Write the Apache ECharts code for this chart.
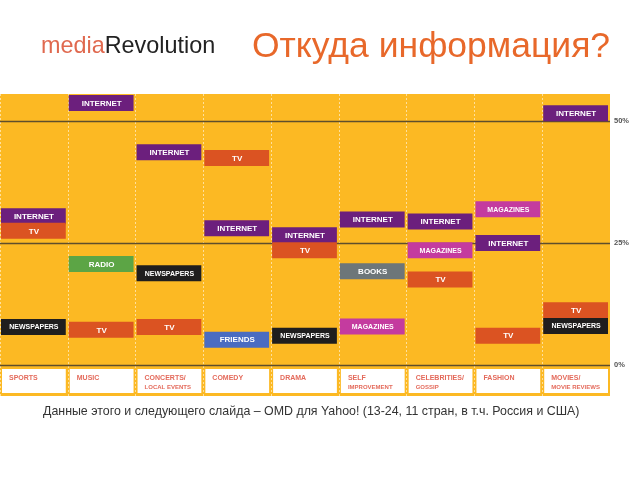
<!DOCTYPE html>
<html>
<head>
<meta charset="utf-8">
<script src="https://cdn.jsdelivr.net/npm/echarts@6/dist/echarts.min.js"></script>
<style>html,body{margin:0;padding:0;background:#fff}#c{width:640px;height:480px}</style>
</head>
<body>
<div id="c"></div>
<script>
const categories = ['SPORTS','MUSIC','CONCERTS/\nLOCAL EVENTS','COMEDY','DRAMA','SELF\nIMPROVEMENT','CELEBRITIES/\nGOSSIP','FASHION','MOVIES/\nMOVIE REVIEWS'];
const boxCategory = [0,0,0, 1,1,1, 2,2,2, 3,3,3, 4,4,4, 5,5,5, 6,6,6, 7,7,7, 8,8,8];
const boxMedium = [
  'INTERNET','TV','NEWSPAPERS',
  'INTERNET','RADIO','TV',
  'INTERNET','NEWSPAPERS','TV',
  'TV','INTERNET','FRIENDS',
  'INTERNET','TV','NEWSPAPERS',
  'INTERNET','BOOKS','MAGAZINES',
  'INTERNET','MAGAZINES','TV',
  'MAGAZINES','INTERNET','TV',
  'INTERNET','TV','NEWSPAPERS'
];
const boxValue = [
  30.5, 27.5, 7.8,
  53.7, 20.7, 7.2,
  43.6, 18.8, 7.8,
  42.4, 28.0, 5.2,
  26.6, 23.5, 6.0,
  29.8, 19.2, 7.9,
  29.4, 23.5, 17.5,
  31.9, 25.0, 6.0,
  51.6, 11.2, 8.0
];
const yTicks = [0, 25, 50];

const mediumColor = {
  INTERNET: '#6C1F7D',
  TV: '#DB5322',
  NEWSPAPERS: '#1F1E1E',
  RADIO: '#5CA545',
  FRIENDS: '#4A6CC1',
  BOOKS: '#6D7679',
  MAGAZINES: '#C43B9F'
};

const chart = echarts.init(document.getElementById('c'), null, {renderer: 'canvas'});

const boxData = boxValue.map((v, i) => [boxCategory[i], v]);
const catData = categories.map((c, i) => [i, 0]);

function catRich(label) {
  const parts = label.split('\n');
  if (parts.length === 1) return '{a|' + parts[0] + '}';
  return '{a|' + parts[0] + '}\n{b|' + parts[1] + '}';
}

const FF = 'Liberation Sans, Arial, sans-serif';

chart.setOption({
  animation: false,
  title: [
    {
      text: '{a|media}{b|Revolution}',
      left: 36, top: 30,
      textStyle: {
        rich: {
          a: {color: '#E0694F', fontSize: 23.4, fontWeight: 'normal', fontFamily: FF},
          b: {color: '#222', fontSize: 23.4, fontWeight: 'normal', fontFamily: FF}
        }
      }
    },
    {
      text: 'Откуда информация?',
      left: 247, top: 24,
      textStyle: {color: '#E8682A', fontSize: 35.5, fontWeight: 'normal', fontFamily: FF}
    },
    {
      text: 'Данные этого и следующего слайда – OMD для Yahoo! (13-24, 11 стран, в т.ч. Россия и США)',
      left: 38, top: 401,
      textStyle: {color: '#333', fontSize: 12.4, fontWeight: 'normal', fontFamily: FF}
    }
  ],
  grid: {
    left: 0, right: 30, top: 94, bottom: 84,
    show: true, backgroundColor: '#FCB923', borderWidth: 0
  },
  xAxis: {
    type: 'category',
    data: categories,
    boundaryGap: true,
    axisLine: {show: false},
    axisTick: {show: false},
    axisLabel: {show: false},
    splitLine: {show: true, interval: 0, lineStyle: {color: 'rgba(255,255,255,0.55)', type: [2, 2], width: 1}}
  },
  yAxis: {
    type: 'value',
    min: -6.35, max: 55.53,
    axisLine: {show: false},
    axisTick: {show: false},
    axisLabel: {show: false},
    splitLine: {show: false}
  },
  series: [
    {
      type: 'custom',
      data: catData,
      renderItem: function (params, api) {
        const i = params.dataIndex;
        const p = api.coord([api.value(0), 0]);
        const w = api.size([1, 0])[0];
        const x0 = p[0] - w / 2;
        return {
          type: 'group',
          children: [
            {type: 'rect', shape: {x: x0 + 2, y: p[1] + 4, width: w - 4, height: 24}, style: {fill: '#FFFFFF'}},
            {type: 'text', style: {
              text: catRich(categories[i]), x: x0 + 9, y: p[1] + 9,
              align: 'left', verticalAlign: 'top',
              rich: {
                a: {fontSize: 7, fontWeight: 'bold', fill: '#E46A5B', fontFamily: FF, lineHeight: 9},
                b: {fontSize: 6, fontWeight: 'bold', fill: '#E46A5B', fontFamily: FF, lineHeight: 9}
              }
            }}
          ]
        };
      },
      markLine: {
        silent: true,
        symbol: ['none', 'none'],
        lineStyle: {color: '#5E4E2C', width: 1.3, type: 'solid'},
        label: {
          show: true, position: 'end', distance: 4,
          formatter: function (p) { return p.value + '%'; },
          color: '#555', fontSize: 7.5, fontWeight: 'bold',
          padding: [11, 0, 0, 0],
          fontFamily: FF
        },
        data: yTicks.map(v => ({yAxis: v}))
      },
      z: 1
    },
    {
      type: 'custom',
      data: boxData,
      zlevel: 1,
      renderItem: function (params, api) {
        const i = params.dataIndex;
        const p = api.coord([api.value(0), api.value(1)]);
        const w = api.size([1, 0])[0];
        const h = 16;
        const label = boxMedium[i];
        const fs = label.length > 8 ? 7 : 8;
        return {
          type: 'group',
          children: [
            {type: 'rect', shape: {x: p[0] - w / 2 + 1, y: p[1] - h / 2, width: w - 3, height: h}, style: {fill: mediumColor[label]}},
            {type: 'text', style: {
              text: label, x: p[0], y: p[1] + 0.5, align: 'center', verticalAlign: 'middle',
              fill: '#FFFFFF', fontSize: fs, fontWeight: 'bold', fontFamily: FF
            }}
          ]
        };
      },
      z: 3
    }
  ]
});
</script>
</body>
</html>
